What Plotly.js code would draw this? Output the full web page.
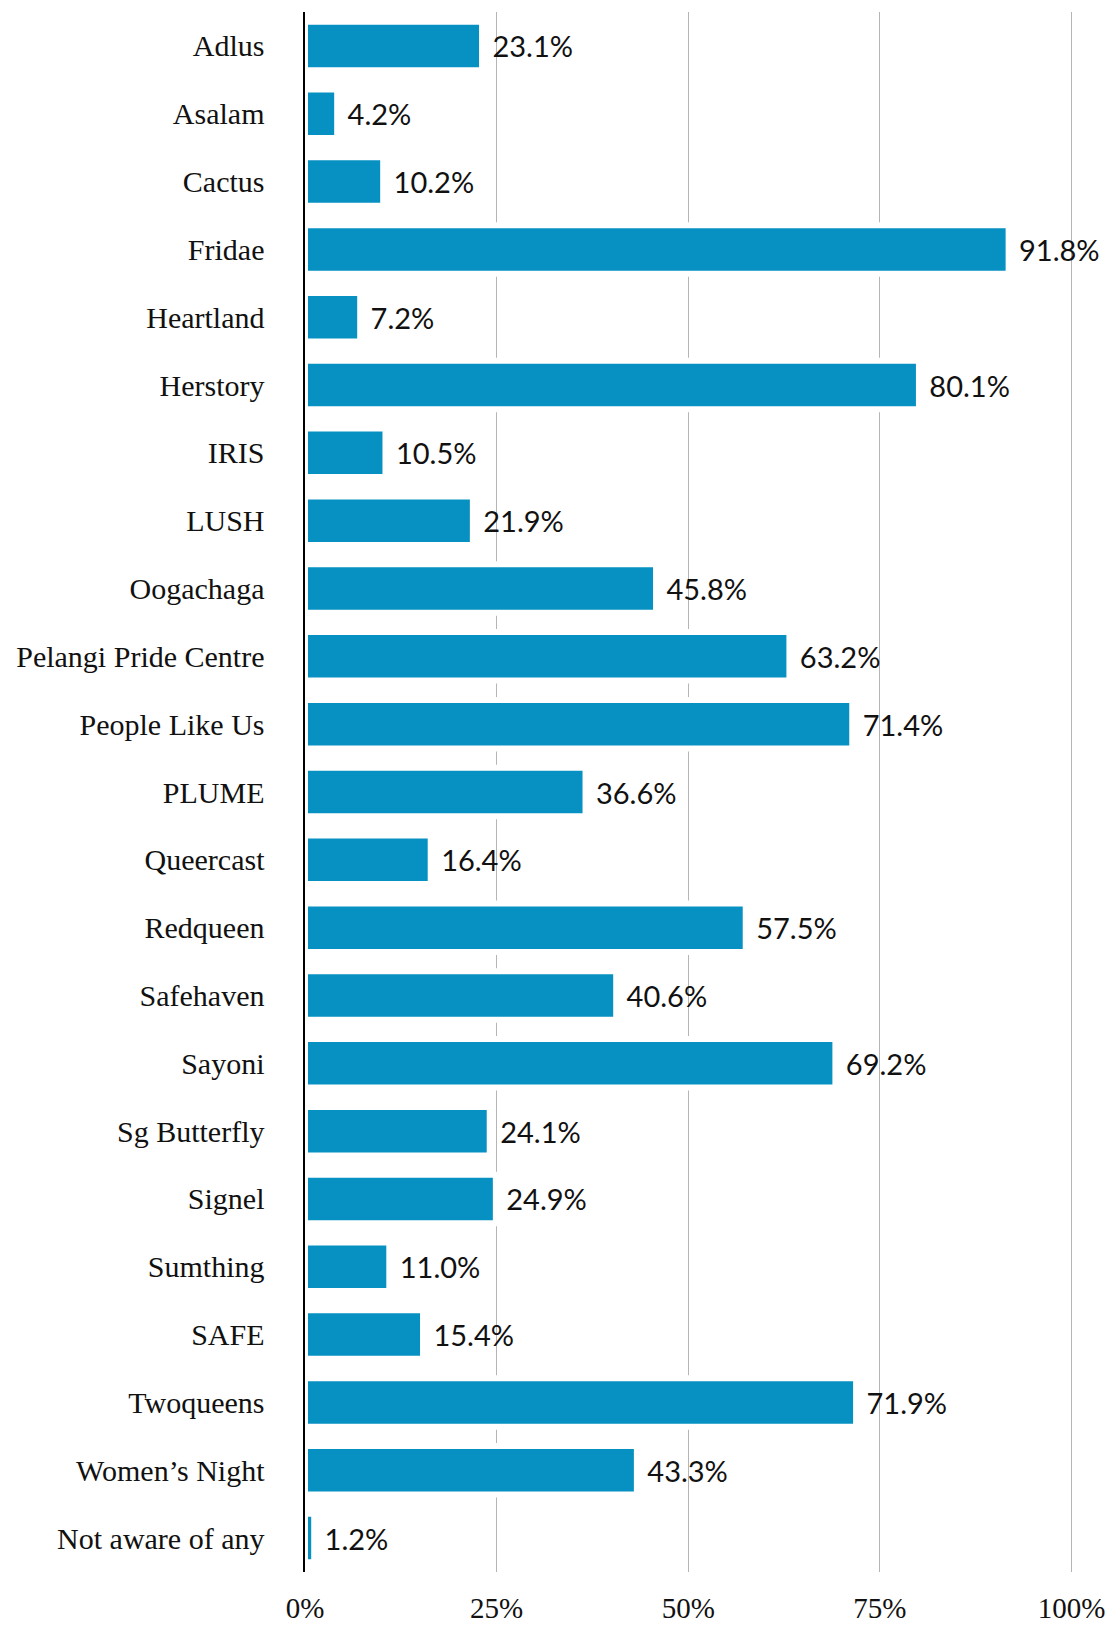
<!DOCTYPE html>
<html>
<head>
<meta charset="utf-8">
<script src="https://cdn.plot.ly/plotly-3.0.1.min.js"></script>
<style>html,body{margin:0;padding:0;background:#fff;}#chart{width:1113px;height:1627px;}</style>
</head>
<body>
<div id="chart"></div>
<script>
const categories = ["Adlus","Asalam","Cactus","Fridae","Heartland","Herstory","IRIS","LUSH","Oogachaga","Pelangi Pride Centre","People Like Us","PLUME","Queercast","Redqueen","Safehaven","Sayoni","Sg Butterfly","Signel","Sumthing","SAFE","Twoqueens","Women\u2019s Night","Not aware of any"];
const values = [23.1,4.2,10.2,91.8,7.2,80.1,10.5,21.9,45.8,63.2,71.4,36.6,16.4,57.5,40.6,69.2,24.1,24.9,11.0,15.4,71.9,43.3,1.2];
const tickValues = [0,25,50,75,100];
const tickLabels = ["0%","25%","50%","75%","100%"];

const trace = {
  type: "bar",
  orientation: "h",
  y: categories,
  x: values,
  marker: {color: "#0790c2", line: {color: "#ffffff", width: 6}},
  width: 0.715,
  text: values.map(v => " " + v.toFixed(1) + "%"),
  textposition: "outside",
  constraintext: "none",
  cliponaxis: false,
  textfont: {family: "Lato, sans-serif", size: 29, color: "#111"},
  hoverinfo: "none"
};

const layout = {
  width: 1113,
  height: 1627,
  margin: {l: 305, r: 40, t: 12, b: 55},
  paper_bgcolor: "#fff",
  plot_bgcolor: "#fff",
  showlegend: false,
  xaxis: {
    range: [0, 100.2],
    tickvals: tickValues,
    ticktext: tickLabels,
    showgrid: true,
    gridcolor: "#b5b5b5",
    gridwidth: 1.2,
    zeroline: false,
    showline: false,
    ticks: "",
    ticklabelstandoff: 16,
    tickfont: {family: "Liberation Serif, serif", size: 29, color: "#111"},
    fixedrange: true
  },
  yaxis: {
    autorange: "reversed",
    type: "category",
    showline: true,
    linecolor: "#000",
    linewidth: 2.5,
    ticks: "",
    ticklabelstandoff: 32,
    showgrid: false,
    tickfont: {family: "Liberation Serif, serif", size: 30, color: "#111"},
    fixedrange: true
  }
};

Plotly.newPlot("chart", [trace], layout, {displayModeBar: false, staticPlot: true});
</script>
</body>
</html>
